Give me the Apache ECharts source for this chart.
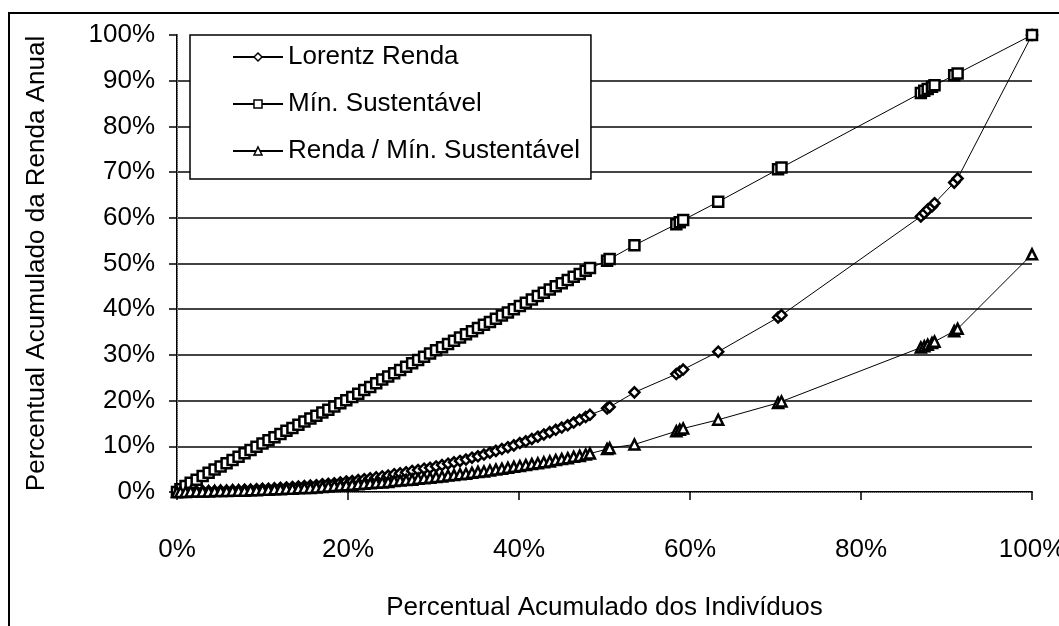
<!DOCTYPE html>
<html>
<head>
<meta charset="utf-8">
<script src="https://cdn.jsdelivr.net/npm/echarts@6/dist/echarts.min.js"></script>
<style>
  html, body { margin: 0; padding: 0; background: #fff; }
  #chart { width: 1059px; height: 626px; }
</style>
</head>
<body>
<div id="chart"></div>
<script>
// percentual acumulado dos individuos (eixo x)
const individuos = [
    0, 0.4, 1.0, 1.6, 2.3, 3.0, 3.7, 4.4, 5.1, 5.8,
    6.5, 7.2, 7.9, 8.6, 9.3, 10.0, 10.7, 11.4, 12.1, 12.8,
    13.5, 14.2, 14.9, 15.6, 16.3, 17.0, 17.7, 18.4, 19.1, 19.8,
    20.5, 21.2, 21.9, 22.6, 23.3, 24.0, 24.7, 25.4, 26.1, 26.8,
    27.5, 28.2, 28.9, 29.6, 30.3, 31.0, 31.7, 32.4, 33.1, 33.8,
    34.5, 35.2, 35.9, 36.6, 37.3, 38.0, 38.7, 39.4, 40.1, 40.8,
    41.5, 42.2, 42.9, 43.6, 44.3, 45.0, 45.7, 46.4, 47.1, 47.8,
    48.3, 50.3, 50.6, 53.5, 58.4, 58.8, 59.2, 63.3, 70.3, 70.7,
    87.0, 87.4, 87.8, 88.3, 88.6, 90.9, 91.3, 100
];
const lorentzRenda = [
    0, 0, 0.1, 0.1, 0.1, 0.2, 0.2, 0.2, 0.3, 0.3,
    0.4, 0.4, 0.5, 0.5, 0.6, 0.7, 0.7, 0.8, 0.9, 1.0,
    1.1, 1.2, 1.3, 1.4, 1.5, 1.7, 1.8, 1.9, 2.1, 2.3,
    2.4, 2.6, 2.8, 3.0, 3.2, 3.4, 3.6, 3.9, 4.1, 4.3,
    4.6, 4.8, 5.1, 5.3, 5.6, 5.9, 6.2, 6.5, 6.8, 7.1,
    7.5, 7.8, 8.2, 8.6, 9.0, 9.4, 9.8, 10.2, 10.7, 11.1,
    11.6, 12.1, 12.6, 13.1, 13.6, 14.1, 14.6, 15.2, 15.8, 16.4,
    16.9, 18.3, 18.6, 21.8, 25.8, 26.3, 26.8, 30.7, 38.2, 38.7,
    60.3, 61.0, 61.8, 62.5, 63.2, 67.7, 68.6, 100
];
const minSustentavel = [
    0, 0.6, 1.3, 2.0, 2.7, 3.5, 4.2, 4.9, 5.6, 6.3,
    7.0, 7.7, 8.5, 9.2, 9.9, 10.6, 11.3, 12.0, 12.7, 13.4,
    14.0, 14.7, 15.4, 16.1, 16.7, 17.4, 18.0, 18.7, 19.4, 20.1,
    20.8, 21.5, 22.3, 23.0, 23.8, 24.6, 25.3, 26.0, 26.7, 27.4,
    28.2, 28.9, 29.6, 30.3, 31.0, 31.7, 32.4, 33.1, 33.8, 34.5,
    35.2, 35.9, 36.6, 37.2, 37.9, 38.6, 39.3, 40.0, 40.7, 41.4,
    42.1, 42.9, 43.6, 44.3, 45.0, 45.7, 46.4, 47.1, 47.7, 48.4,
    49.0, 50.6, 51.0, 54.0, 58.6, 59.0, 59.5, 63.5, 70.6, 71.0,
    87.3, 87.8, 88.2, 88.7, 89.0, 91.2, 91.6, 100
];
const rendaMinSust = [
    0, 0, 0, 0.1, 0.1, 0.1, 0.1, 0.2, 0.2, 0.2,
    0.3, 0.3, 0.3, 0.4, 0.4, 0.5, 0.5, 0.6, 0.6, 0.7,
    0.7, 0.8, 0.9, 0.9, 1.0, 1.1, 1.2, 1.3, 1.4, 1.5,
    1.6, 1.7, 1.8, 1.9, 2.0, 2.1, 2.2, 2.4, 2.5, 2.6,
    2.7, 2.9, 3.0, 3.1, 3.3, 3.4, 3.6, 3.7, 3.9, 4.0,
    4.2, 4.4, 4.5, 4.7, 4.9, 5.1, 5.3, 5.5, 5.7, 5.9,
    6.1, 6.3, 6.5, 6.7, 7.0, 7.2, 7.4, 7.7, 7.9, 8.2,
    8.4, 9.4, 9.6, 10.4, 13.3, 13.6, 13.9, 15.8, 19.5, 19.8,
    31.6, 31.9, 32.2, 32.6, 32.9, 35.2, 35.7, 52.0
];

const font = 'Arial, "Liberation Sans", sans-serif';

function pares(ys) {
    return individuos.map((x, i) => [x, ys[i]]);
}

function serie(name, symbol, ys) {
    return {
        name: name,
        type: 'line',
        symbol: symbol,
        symbolSize: 10,
        showAllSymbol: true,
        data: pares(ys),
        lineStyle: { color: '#000', width: 1 },
        itemStyle: { color: '#fff', borderColor: '#000', borderWidth: 2.5 },
        emphasis: { disabled: true }
    };
}

const myChart = echarts.init(document.getElementById('chart'));
const option = {
    animation: false,
    backgroundColor: '#fff',
    textStyle: { fontFamily: font },
    graphic: [{
        type: 'rect',
        shape: { x: 9, y: 13, width: 2000, height: 2000 },
        style: { fill: 'none', stroke: '#000', lineWidth: 2 },
        silent: true
    }],
    grid: { left: 177, right: 27, top: 35, bottom: 134, outerBoundsMode: 'none' },
    legend: {
        orient: 'vertical',
        left: 190,
        top: 35,
        padding: [7, 11, 13, 42],
        itemGap: 17,
        itemWidth: 50,
        itemHeight: 10,
        backgroundColor: '#fff',
        borderColor: '#000',
        borderWidth: 1.5,
        itemStyle: { borderWidth: 1.5 },
        textStyle: { fontFamily: font, fontSize: 26, color: '#000', lineHeight: 30 }
    },
    xAxis: [{
        type: 'value',
        min: 0, max: 100, interval: 20,
        name: 'Percentual Acumulado dos Indivíduos',
        nameLocation: 'middle',
        nameGap: 103,
        nameMoveOverlap: false,
        nameTextStyle: { fontFamily: font, fontSize: 26, color: '#000' },
        axisLine: { lineStyle: { color: '#000', width: 2 } },
        axisTick: { show: true, length: 8, lineStyle: { color: '#000', width: 1.5 } },
        axisLabel: { formatter: '{value}%', margin: 45, fontSize: 26, color: '#000', fontFamily: font },
        splitLine: { show: false }
    }, {
        type: 'value',
        position: 'top',
        min: 0, max: 100,
        axisLine: { show: true, lineStyle: { color: '#888', width: 1, type: 'dotted' } },
        axisTick: { show: false },
        axisLabel: { show: false },
        splitLine: { show: false }
    }],
    yAxis: [{
        type: 'value',
        min: 0, max: 100, interval: 10,
        name: 'Percentual Acumulado da Renda Anual',
        nameLocation: 'middle',
        nameRotate: 90,
        nameGap: 127,
        nameMoveOverlap: false,
        nameTextStyle: { fontFamily: font, fontSize: 26, color: '#000' },
        axisLine: { show: true, lineStyle: { color: '#000', width: 2 } },
        axisTick: { show: true, length: 8, lineStyle: { color: '#000', width: 1.5 } },
        axisLabel: { formatter: '{value}%', margin: 22, fontSize: 26, color: '#000', fontFamily: font },
        splitLine: {
            show: true,
            lineStyle: {
                color: ['#444', '#444', '#444', '#444', '#444', '#444', '#444', '#444', '#444', '#444', 'rgba(0,0,0,0)'],
                width: 2
            }
        }
    }, {
        type: 'value',
        position: 'right',
        min: 0, max: 100,
        axisLine: { show: true, lineStyle: { color: '#888', width: 1, type: 'dotted' } },
        axisTick: { show: false },
        axisLabel: { show: false },
        splitLine: { show: false }
    }],
    series: [
        serie('Lorentz Renda', 'diamond', lorentzRenda),
        serie('Mín. Sustentável', 'rect', minSustentavel),
        serie('Renda / Mín. Sustentável', 'triangle', rendaMinSust)
    ]
};
option && myChart.setOption(option);
</script>
</body>
</html>
